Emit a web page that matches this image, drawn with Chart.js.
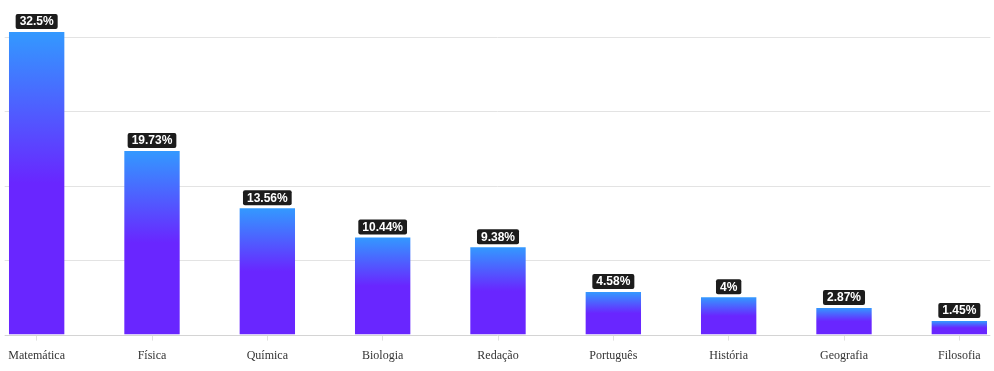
<!DOCTYPE html>
<html>
<head>
<meta charset="utf-8">
<script src="https://cdn.jsdelivr.net/npm/chart.js@4.4.1/dist/chart.umd.min.js"></script>
<style>
  html, body { margin: 0; padding: 0; background: #fff; overflow: hidden; }
  /* canvas is a little wider than the window so the first and last bars sit near the edges */
  #wrap { width: 1038px; height: 371px; margin-left: -21px; }
</style>
</head>
<body>
<div id="wrap"><canvas id="chart"></canvas></div>
<script>
var subjects = ['Matemática', 'Física', 'Química', 'Biologia', 'Redação', 'Português', 'História', 'Geografia', 'Filosofia'];
var percents = [32.5, 19.73, 13.56, 10.44, 9.38, 4.58, 4, 2.87, 1.45];
var yMax = 32.5;
var yStep = 8;

var topColor = '#3399ff';
var bottomColor = '#6926ff';

function barGradient(context) {
    var chart = context.chart;
    if (!chart.chartArea || context.dataIndex === undefined) return bottomColor;
    var ys = chart.scales.y;
    var top = ys.getPixelForValue(percents[context.dataIndex]);
    var base = ys.getPixelForValue(0);
    var g = chart.ctx.createLinearGradient(0, top, 0, base);
    g.addColorStop(0, topColor);
    g.addColorStop(0.5, bottomColor);
    g.addColorStop(1, bottomColor);
    return g;
}

// horizontal grid lines every yStep, plus the base line
var gridPlugin = {
    id: 'gridLines',
    beforeDatasetsDraw: function(chart) {
        var ctx = chart.ctx;
        var xs = chart.scales.x, ys = chart.scales.y;
        var left = xs.getPixelForValue(0) - 32;
        var right = xs.getPixelForValue(subjects.length - 1) + 31;
        ctx.save();
        ctx.lineWidth = 1;
        for (var v = 0; v <= yMax; v += yStep) {
            var y = Math.round(ys.getPixelForValue(v)) + 0.5;
            ctx.strokeStyle = v === 0 ? '#d4d4d4' : '#e3e3e3';
            ctx.beginPath();
            ctx.moveTo(left, y);
            ctx.lineTo(right, y);
            ctx.stroke();
        }
        ctx.restore();
    }
};

// value boxes above the bars
var labelPlugin = {
    id: 'valueBoxes',
    afterDatasetsDraw: function(chart) {
        var ctx = chart.ctx;
        var meta = chart.getDatasetMeta(0);
        ctx.save();
        ctx.font = 'bold 12px "Liberation Sans", Arial, sans-serif';
        ctx.textAlign = 'center';
        ctx.textBaseline = 'middle';
        meta.data.forEach(function(bar, i) {
            var text = percents[i] + '%';
            var w = ctx.measureText(text).width + 8;
            var h = 15;
            var x = bar.x - w / 2;
            var y = bar.y - 3 - h;
            ctx.fillStyle = '#1c1c1c';
            ctx.beginPath();
            ctx.roundRect(x, y, w, h, 2);
            ctx.fill();
            ctx.fillStyle = '#ffffff';
            ctx.fillText(text, bar.x, y + h / 2 + 0.5);
        });
        ctx.restore();
    }
};

new Chart(document.getElementById('chart'), {
    type: 'bar',
    data: {
        labels: subjects,
        datasets: [{
            data: percents,
            backgroundColor: barGradient,
            borderWidth: 0,
            categoryPercentage: 1,
            barPercentage: 0.48
        }]
    },
    options: {
        responsive: true,
        maintainAspectRatio: false,
        animation: false,
        layout: { padding: { left: 0, right: 0, top: 32, bottom: 0 } },
        plugins: {
            legend: { display: false },
            tooltip: { enabled: false }
        },
        scales: {
            x: {
                offset: true,
                border: { display: false },
                grid: {
                    offset: false,
                    drawOnChartArea: false,
                    drawTicks: true,
                    tickLength: 6,
                    color: '#e0e0e0'
                },
                ticks: {
                    padding: 8,
                    color: '#333333',
                    maxRotation: 0,
                    autoSkip: false,
                    font: { family: '"Liberation Serif", "Times New Roman", serif', size: 12 }
                }
            },
            y: {
                display: false,
                min: 0,
                max: yMax,
                ticks: { stepSize: yStep }
            }
        }
    },
    plugins: [gridPlugin, labelPlugin]
});
</script>
</body>
</html>
